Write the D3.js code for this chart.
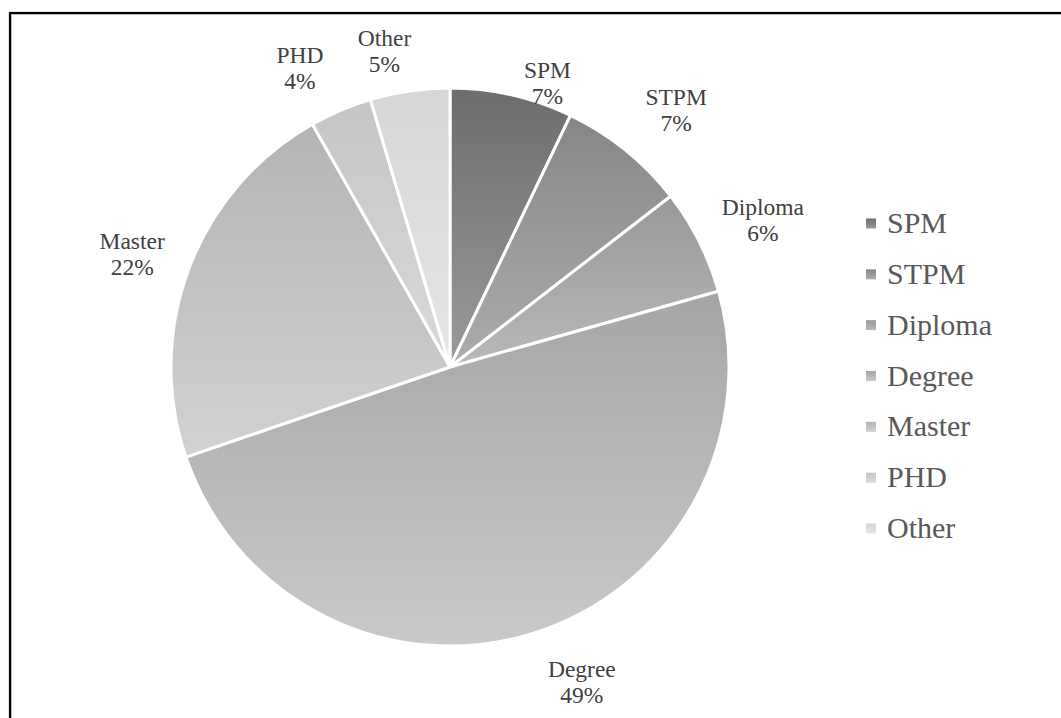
<!DOCTYPE html>
<html>
<head>
<meta charset="utf-8">
<script src="https://cdn.jsdelivr.net/npm/d3@7"></script>
<style>
  body { margin: 0; background: #fff; }
  svg { display: block; }
</style>
</head>
<body>
<div id="chart"></div>
<script>
// data (share of respondents, %)
var categories = ["SPM", "STPM", "Diploma", "Degree", "Master", "PHD", "Other"];
var values = [7.1, 7.4, 6.1, 49.1, 22.0, 3.6, 4.6];
var topColors = ["#6d6d6d", "#868686", "#999999", "#a5a5a5", "#b4b4b4", "#c6c6c6", "#d6d6d6"];
var bottomColors = ["#9a9a9a", "#adadad", "#b8b8b8", "#cacaca", "#d2d2d2", "#d9d9d9", "#e6e6e6"];

var width = 1061, height = 718;
var cx = 450, cy = 367, radius = 279;

var svg = d3.select("#chart").append("svg")
    .attr("width", width)
    .attr("height", height);

// chart border (runs off the right and bottom of the picture)
svg.append("rect")
    .attr("x", 11.5).attr("y", 14.5)
    .attr("width", 1200).attr("height", 900)
    .attr("fill", "none").attr("stroke", "#cfcfcf").attr("stroke-width", 1);
svg.append("rect")
    .attr("x", 10).attr("y", 13)
    .attr("width", 1200).attr("height", 900)
    .attr("fill", "none").attr("stroke", "#000").attr("stroke-width", 2.2);

var defs = svg.append("defs");
categories.forEach(function(c, i) {
    var grad = defs.append("linearGradient")
        .attr("id", "grad" + i)
        .attr("x1", 0).attr("y1", 0).attr("x2", 0).attr("y2", 1);
    grad.append("stop").attr("offset", "0%").attr("stop-color", topColors[i]);
    grad.append("stop").attr("offset", "100%").attr("stop-color", bottomColors[i]);
});

var pie = d3.pie().sort(null).value(function(d) { return d; });
var data_ready = pie(values);

var arc = d3.arc().innerRadius(0).outerRadius(radius);

var g = svg.append("g").attr("transform", "translate(" + cx + "," + cy + ")");

g.selectAll("path")
    .data(data_ready)
    .enter()
    .append("path")
    .attr("d", arc)
    .attr("fill", function(d, i) { return "url(#grad" + i + ")"; })
    .attr("stroke", "#fff")
    .attr("stroke-width", 3)
    .attr("stroke-linejoin", "round");

// data labels, outside end
var labelArc = d3.arc().innerRadius(radius + 30).outerRadius(radius + 30);
var nudges = [[29, 17], [32, -17], [37, -8], [40, 20], [-29, -3], [-29, -15], [-21, -10]];

var labels = g.selectAll("text.lbl")
    .data(data_ready)
    .enter()
    .append("text")
    .attr("class", "lbl")
    .attr("transform", function(d, i) {
        var p = labelArc.centroid(d);
        return "translate(" + (p[0] + nudges[i][0]) + "," + (p[1] + nudges[i][1]) + ")";
    })
    .style("text-anchor", "middle")
    .style("font-family", "'Liberation Serif', 'Times New Roman', serif")
    .style("font-size", "23.5px")
    .style("fill", "#404040");

labels.append("tspan")
    .attr("x", 0).attr("y", -5)
    .text(function(d, i) { return categories[i]; });
labels.append("tspan")
    .attr("x", 0).attr("y", 21)
    .text(function(d) { return Math.round(d.value) + "%"; });

// legend
var legendY = d3.scalePoint().domain(categories).range([223, 528]);

var legend = svg.append("g").selectAll("g")
    .data(categories)
    .enter()
    .append("g")
    .attr("transform", function(d) { return "translate(866," + legendY(d) + ")"; });

legend.append("rect")
    .attr("x", 0).attr("y", -4.5)
    .attr("width", 10).attr("height", 10)
    .attr("fill", function(d, i) { return "url(#grad" + i + ")"; });

legend.append("text")
    .attr("x", 21).attr("y", 10)
    .text(function(d) { return d; })
    .style("font-family", "'Liberation Serif', 'Times New Roman', serif")
    .style("font-size", "30px")
    .style("fill", "#595959");
</script>
</body>
</html>
